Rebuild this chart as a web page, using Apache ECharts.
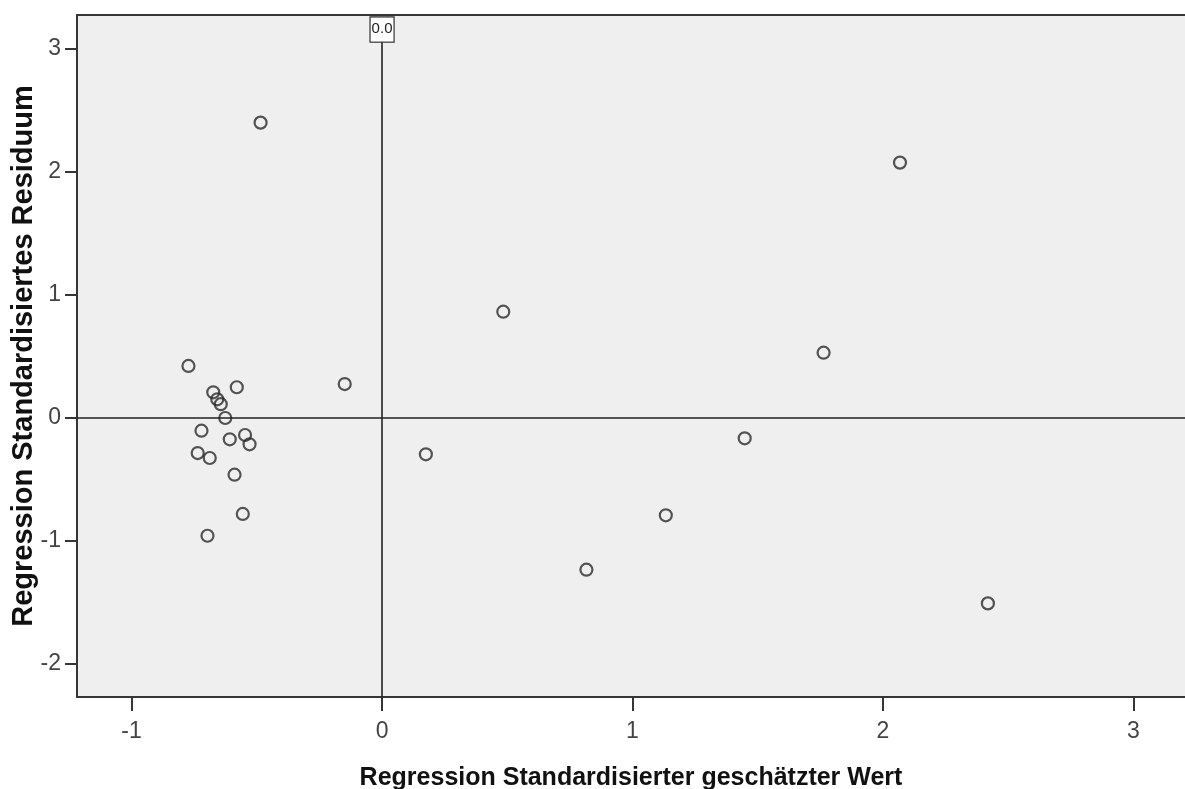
<!DOCTYPE html>
<html>
<head>
<meta charset="utf-8">
<script src="https://cdn.jsdelivr.net/npm/echarts@6/dist/echarts.min.js"></script>
<style>
  html, body { margin: 0; padding: 0; background: #ffffff; }
  #chart { width: 1185px; height: 789px; }
</style>
</head>
<body>
<div id="chart"></div>
<script>
// Standardised predicted values (x) and standardised residuals (y), one pair per case
const predicted = [
  -0.773, -0.674, -0.580, -0.658, -0.644, -0.626, -0.721, -0.608, -0.547, -0.529,
  -0.736, -0.688, -0.589, -0.556, -0.697, -0.149, 0.175, 0.484, 1.763, 1.448,
  1.133, 0.816, 2.419, 2.068, -0.485
];
const residuals = [
  0.423, 0.209, 0.250, 0.152, 0.112, 0.000, -0.103, -0.173, -0.138, -0.214,
  -0.285, -0.325, -0.461, -0.780, -0.957, 0.276, -0.295, 0.864, 0.531, -0.165,
  -0.791, -1.233, -1.507, 2.076, 2.401
];

const xTicks = [-1, 0, 1, 2, 3];
const yTicks = [-2, -1, 0, 1, 2, 3];
const xRange = [-1.218, 3.206];
const yRange = [-2.268, 3.276];

const xTitle = 'Regression Standardisierter geschätzter Wert';
const yTitle = 'Regression Standardisiertes Residuum';
const refLabel = '0.0';
const refTop = 3.06;   // the vertical reference line stops under its label box

const FONT = '"Liberation Sans", Arial, Helvetica, sans-serif';
const frameColor = '#363636';

const points = predicted.map((x, i) => [x, residuals[i]]);

const chart = echarts.init(document.getElementById('chart'), null, { renderer: 'canvas' });

chart.setOption({
  animation: false,
  backgroundColor: '#ffffff',
  grid: {
    left: 77, right: 0, top: 15, bottom: 92,
    outerBoundsMode: 'none',
    containLabel: false,
    show: true,
    backgroundColor: '#efefef',
    borderWidth: 0
  },
  xAxis: [
    {
      type: 'value',
      position: 'bottom',
      min: xRange[0], max: xRange[1],
      name: xTitle,
      nameLocation: 'middle',
      nameGap: 69,
      nameTextStyle: { fontFamily: FONT, fontSize: 25, fontWeight: 'bold', color: '#111' },
      axisLine: { show: true, onZero: false, lineStyle: { color: frameColor, width: 2 } },
      axisTick: { show: true, length: 14, customValues: xTicks, lineStyle: { color: frameColor, width: 2 } },
      axisLabel: {
        customValues: xTicks, margin: 23,
        fontFamily: FONT, fontSize: 23, color: '#444',
        formatter: v => String(v)
      },
      splitLine: { show: false }
    },
    {
      type: 'value',
      position: 'top',
      min: xRange[0], max: xRange[1],
      axisLine: { show: true, onZero: false, lineStyle: { color: frameColor, width: 2 } },
      axisTick: { show: false },
      axisLabel: { show: false },
      splitLine: { show: false }
    }
  ],
  yAxis: {
    type: 'value',
    min: yRange[0], max: yRange[1],
    name: yTitle,
    nameLocation: 'middle',
    nameGap: 39,
    nameMoveOverlap: false,
    nameTextStyle: { fontFamily: FONT, fontSize: 29, fontWeight: 'bold', color: '#111' },
    axisLine: { show: true, onZero: false, lineStyle: { color: frameColor, width: 2 } },
    axisTick: { show: true, length: 12, customValues: yTicks, lineStyle: { color: frameColor, width: 2 } },
    axisLabel: {
      customValues: yTicks, margin: 16,
      fontFamily: FONT, fontSize: 23, color: '#444',
      formatter: v => String(v)
    },
    splitLine: { show: false }
  },
  series: [{
    type: 'scatter',
    xAxisIndex: 0,
    data: points,
    symbol: 'circle',
    symbolSize: 12,
    itemStyle: { color: 'rgba(0,0,0,0)', borderColor: '#2a2a2a', borderWidth: 2.2 },
    markLine: {
      silent: true,
      symbol: 'none',
      animation: false,
      lineStyle: { color: '#222', width: 1.6, type: 'solid' },
      data: [
        { yAxis: 0, label: { show: false } },
        [
          { coord: [0, yRange[0]] },
          {
            coord: [0, refTop],
            label: {
              show: true,
              position: 'end',
              distance: 0,
              formatter: refLabel,
              fontFamily: FONT, fontSize: 15, color: '#222',
              backgroundColor: '#ffffff',
              borderColor: '#333', borderWidth: 1.2,
              padding: [4, 1, 5, 1]
            }
          }
        ]
      ]
    }
  }]
});
</script>
</body>
</html>
